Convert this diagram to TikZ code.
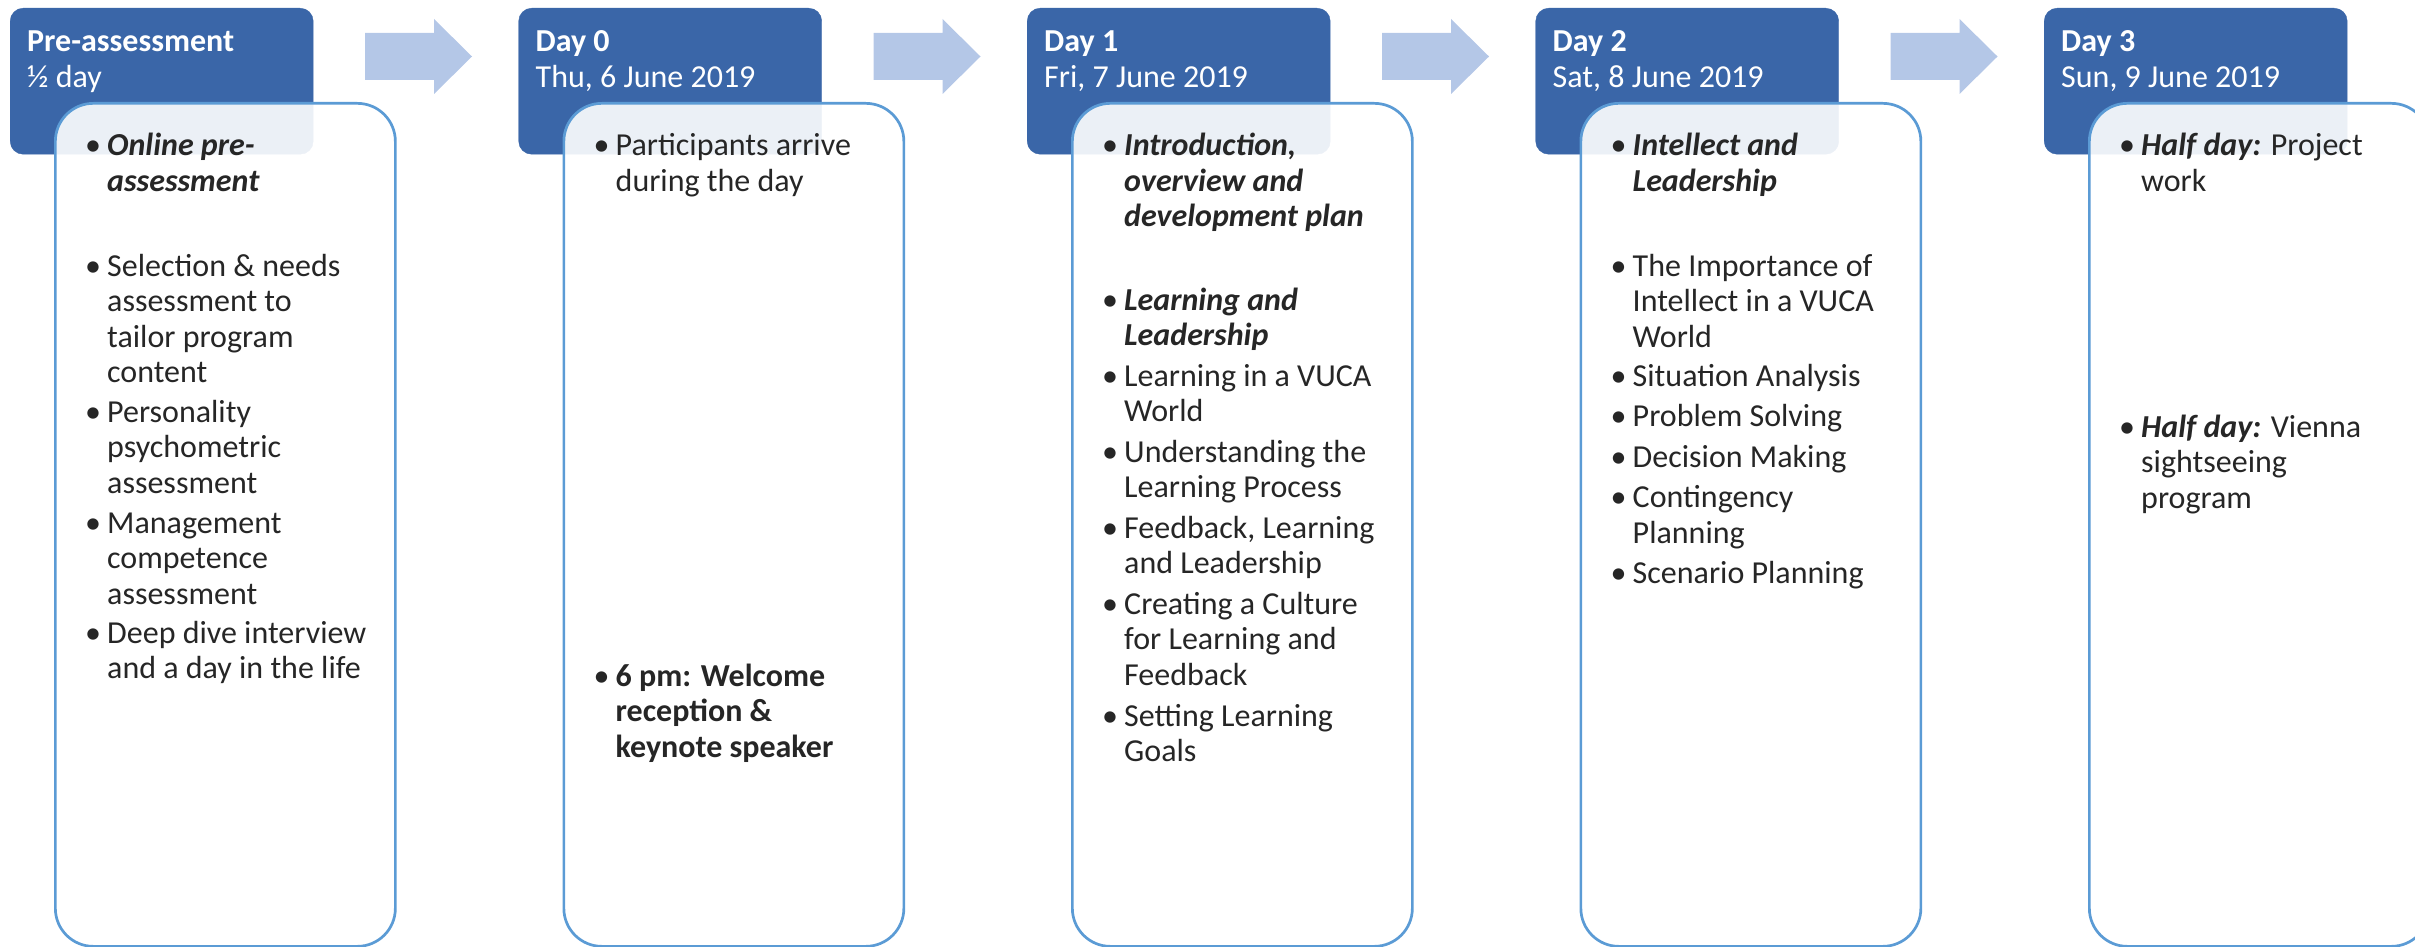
\documentclass[tikz,border=0pt]{standalone}
\usepackage{fontspec}
\setmainfont{Carlito}
\usetikzlibrary{positioning}

\definecolor{hdblue}{HTML}{3A66A8}
\definecolor{arrowblue}{HTML}{B4C7E7}
\definecolor{boxline}{HTML}{5B9BD5}
\definecolor{bodytext}{HTML}{262626}

\newcommand{\bemph}[1]{\textbf{\textit{#1}}}
\newcommand{\toplines}[1]{\begin{tabular}[t]{@{}l@{}}#1\end{tabular}}
% name, box left x, first baseline y, text
\newcommand{\bitem}[4]{%
  \node[bulletdot] (#1b) at (#2+31,#3) {\textbullet};
  \node[itemtext] (#1) at (#2+53,#3) {\toplines{#4}};}

\begin{document}
\begin{tikzpicture}[x=1pt,y=-1pt]
  \tikzset{hdbox/.style = {draw=hdblue,fill=hdblue,rounded corners=13pt,minimum width=303pt,minimum height=146pt,anchor=north west,inner sep=0pt}}
  \tikzset{daybox/.style = {draw=boxline,line width=2.7pt,fill=white,fill opacity=0.9,rounded corners=38pt,minimum width=340pt,minimum height=843pt,anchor=north west,inner sep=0pt}}
  \tikzset{hdtext/.style = {text=white,anchor=base west,inner sep=0pt,font=\fontsize{32}{35.5}\selectfont}}
  \tikzset{itemtext/.style = {text=bodytext,anchor=base west,inner sep=0pt,font=\fontsize{32}{35.5}\selectfont}}
  \tikzset{bulletdot/.style = {text=bodytext,anchor=base west,inner sep=0pt,font=\fontsize{32}{35.5}\selectfont}}
  \tikzset{stagearrow/.style = {fill=arrowblue}}

  \useasboundingbox (0,0) rectangle (2415,947);

  % day headers with their boxes
  \foreach \i/\x in {1/10, 2/518.5, 3/1027, 4/1535.5, 5/2044} {
    \node[hdbox] (hd\i) at (\x,8) {};
    \node[daybox] (box\i) at (\x+44,102) {};
  }

  % arrows between the days
  \foreach \x in {365, 873.5, 1382, 1890.5}
    \fill[stagearrow] (\x,33) -- (\x+69,33) -- (\x+69,19) -- (\x+107,56.5)
      -- (\x+69,94) -- (\x+69,80) -- (\x,80) -- cycle;

  \node[hdtext] (hdt1) at (27,52) {\toplines{\textbf{Pre-assessment}\\½ day}};
  \node[hdtext] (hdt2) at (535.5,52) {\toplines{\textbf{Day 0}\\Thu, 6 June 2019}};
  \node[hdtext] (hdt3) at (1044,52) {\toplines{\textbf{Day 1}\\Fri, 7 June 2019}};
  \node[hdtext] (hdt4) at (1552.5,52) {\toplines{\textbf{Day 2}\\Sat, 8 June 2019}};
  \node[hdtext] (hdt5) at (2061,52) {\toplines{\textbf{Day 3}\\Sun, 9 June 2019}};

  % pre-assessment
  \bitem{a1}{54}{156}{\bemph{Online pre-}\\\bemph{assessment}}
  \bitem{a2}{54}{276}{Selection \& needs\\assessment to\\tailor program\\content}
  \bitem{a3}{54}{422}{Personality\\psychometric\\assessment}
  \bitem{a4}{54}{533}{Management\\competence\\assessment}
  \bitem{a5}{54}{643}{Deep dive interview\\and a day in the life}

  % day 0
  \bitem{b1}{562.5}{156}{Participants arrive\\during the day}
  \bitem{b2}{562.5}{686}{\textbf{6 pm: Welcome}\\\textbf{reception \&}\\\textbf{keynote speaker}}

  % day 1
  \bitem{c1}{1071}{156}{\bemph{Introduction,}\\\bemph{overview and}\\\bemph{development plan}}
  \bitem{c2}{1071}{310}{\bemph{Learning and}\\\bemph{Leadership}}
  \bitem{c3}{1071}{386}{Learning in a VUCA\\World}
  \bitem{c4}{1071}{462}{Understanding the\\Learning Process}
  \bitem{c5}{1071}{538}{Feedback, Learning\\and Leadership}
  \bitem{c6}{1071}{614}{Creating a Culture\\for Learning and\\Feedback}
  \bitem{c7}{1071}{726}{Setting Learning\\Goals}

  % day 2
  \bitem{d1}{1579.5}{156}{\bemph{Intellect and}\\\bemph{Leadership}}
  \bitem{d2}{1579.5}{276}{The Importance of\\Intellect in a VUCA\\World}
  \bitem{d3}{1579.5}{386}{Situation Analysis}
  \bitem{d4}{1579.5}{426.5}{Problem Solving}
  \bitem{d5}{1579.5}{467}{Decision Making}
  \bitem{d6}{1579.5}{507.5}{Contingency\\Planning}
  \bitem{d7}{1579.5}{583}{Scenario Planning}

  % day 3
  \bitem{e1}{2088}{156}{\bemph{Half day:} Project\\work}
  \bitem{e2}{2088}{437}{\bemph{Half day:} Vienna\\sightseeing\\program}
\end{tikzpicture}
\end{document}
